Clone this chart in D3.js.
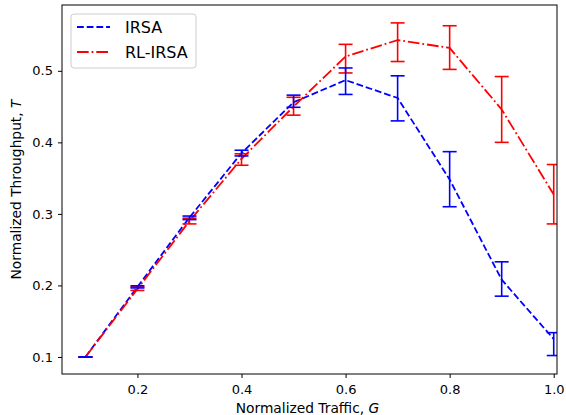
<!DOCTYPE html>
<html><head><meta charset="utf-8">
<script src="https://cdn.jsdelivr.net/npm/d3@7"></script>
<style>body{margin:0;background:#fff;} svg{display:block;font-family:"DejaVu Sans",sans-serif;}</style>
</head><body>
<svg id="c" width="566" height="415"></svg>
<script>
const traffic = [0.1, 0.2, 0.3, 0.4, 0.5, 0.6, 0.7, 0.8, 0.9, 1.0];
const irsaMean = [0.100, 0.198, 0.295, 0.385, 0.456, 0.487, 0.462, 0.348, 0.208, 0.125];
const irsaLow  = [0.100, 0.1965, 0.292, 0.381, 0.449, 0.467, 0.430, 0.310, 0.185, 0.102];
const irsaHigh = [0.100, 0.1995, 0.297, 0.389, 0.466, 0.504, 0.493, 0.387, 0.233, 0.134];
const rlMean = [0.100, 0.195, 0.290, 0.377, 0.450, 0.520, 0.543, 0.532, 0.446, 0.327];
const rlLow  = [0.100, 0.193, 0.286, 0.368, 0.438, 0.497, 0.513, 0.502, 0.400, 0.286];
const rlHigh = [0.100, 0.198, 0.294, 0.384, 0.463, 0.537, 0.567, 0.563, 0.492, 0.369];
const xTicks = [0.2, 0.4, 0.6, 0.8, 1.0];
const yTicks = [0.1, 0.2, 0.3, 0.4, 0.5];
const seriesNames = ["IRSA", "RL-IRSA"];

const L = 62, R = 557, T = 5, B = 374;
const x = d3.scaleLinear().domain([0.055, 1.0063]).range([L, R]);
const y = d3.scaleLinear().domain([0.0762, 0.592]).range([B, T]);
const svg = d3.select("#c");

const series = [
  {name: seriesNames[0], mean: irsaMean, lo: irsaLow, hi: irsaHigh, color: "#0000ff", dash: "6.8,2.9"},
  {name: seriesNames[1], mean: rlMean, lo: rlLow, hi: rlHigh, color: "#ff0000", dash: "11.7,2.9,1.8,2.9"}
];

svg.append("defs").append("clipPath").attr("id","pc").append("rect")
  .attr("x", L).attr("y", T).attr("width", R - L).attr("height", B - T);
const plot = svg.append("g").attr("clip-path","url(#pc)");
const line = d3.line().x(d => x(d[0])).y(d => y(d[1]));
series.forEach(s => {
  const pts = traffic.map((t,i) => [t, s.mean[i]]);
  plot.append("path").attr("d", line(pts)).attr("fill","none")
    .attr("stroke", s.color).attr("stroke-width", 1.8).attr("stroke-dasharray", s.dash);
});
series.slice().reverse().forEach(s => {
  const g = plot.append("g").attr("stroke", s.color).attr("stroke-width", 1.6);
  traffic.forEach((t,i) => {
    const cx = x(t);
    g.append("line").attr("x1",cx).attr("x2",cx).attr("y1",y(s.lo[i])).attr("y2",y(s.hi[i]));
    [s.lo[i], s.hi[i]].forEach(v => g.append("line").attr("x1",cx-7).attr("x2",cx+7).attr("y1",y(v)).attr("y2",y(v)));
  });
});

const xAxis = svg.append("g").attr("transform",`translate(0,${B})`)
  .call(d3.axisBottom(x).tickValues(xTicks).tickFormat(d3.format(".1f")).tickSizeOuter(0).tickSize(4).tickPadding(7));
const yAxis = svg.append("g").attr("transform",`translate(${L},0)`)
  .call(d3.axisLeft(y).tickValues(yTicks).tickFormat(d3.format(".1f")).tickSizeOuter(0).tickSize(4).tickPadding(5));
[xAxis, yAxis].forEach(a => {
  a.select(".domain").remove();
  a.selectAll("text").attr("font-size", 13).attr("fill","#000").attr("font-family","DejaVu Sans");
  a.selectAll("line").attr("stroke","#000").attr("stroke-width",1);
});
svg.append("rect").attr("x",L).attr("y",T).attr("width",R-L).attr("height",B-T)
  .attr("fill","none").attr("stroke","#000").attr("stroke-width",1);

const xl = svg.append("text").attr("x",307.5).attr("y",413).attr("text-anchor","middle").attr("font-size",13.8);
xl.append("tspan").text("Normalized Traffic, ");
xl.append("tspan").attr("font-style","italic").text("G");
const yl = svg.append("text").attr("transform",`translate(21,${(T+B)/2}) rotate(-90)`).attr("text-anchor","middle").attr("font-size",13.8);
yl.append("tspan").text("Normalized Throughput, ");
yl.append("tspan").attr("font-style","italic").text("T");

const lg = svg.append("g");
lg.append("rect").attr("x",71).attr("y",14).attr("width",125).attr("height",54).attr("rx",3)
  .attr("fill","#fff").attr("fill-opacity",0.8).attr("stroke","#ccc").attr("stroke-width",1);
series.forEach((s,i) => {
  const yy = 27 + i*25;
  lg.append("line").attr("x1",77).attr("x2",110).attr("y1",yy).attr("y2",yy)
    .attr("stroke",s.color).attr("stroke-width",1.8).attr("stroke-dasharray",s.dash);
  lg.append("text").attr("x",125).attr("y",yy).attr("dy","0.36em").attr("font-size",16).text(s.name);
});
</script>
</body></html>
